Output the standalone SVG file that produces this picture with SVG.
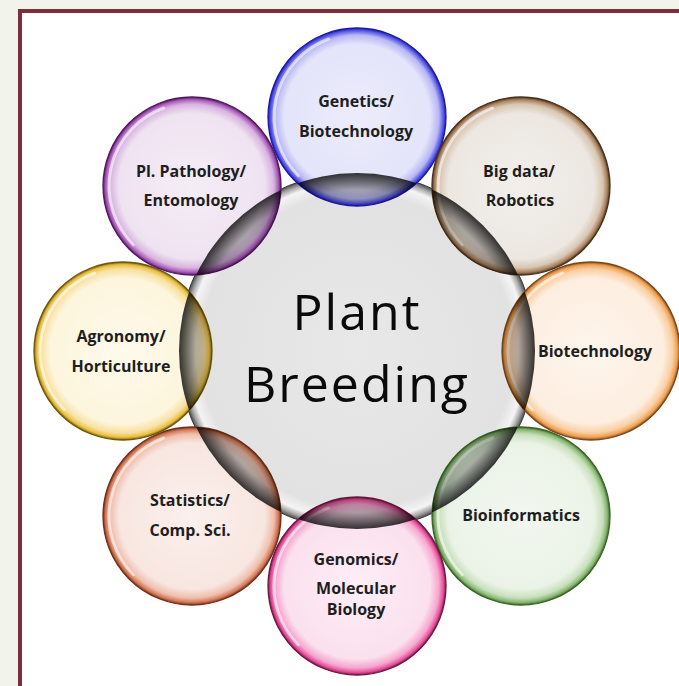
<svg xmlns="http://www.w3.org/2000/svg" width="679" height="686" viewBox="0 0 679 686">
  <style>
    .lbl { font-family: "Open Sans", "Liberation Sans", sans-serif; font-weight: 700; font-size: 16px; fill: #1e1e1e; text-anchor: middle; }
    .big { font-family: "Open Sans", "Liberation Sans", sans-serif; font-weight: 400; font-size: 50px; fill: #0a0a0a; text-anchor: middle; letter-spacing: 2px; }
    .hl { fill: none; stroke: #ffffff; stroke-width: 3; stroke-opacity: 0.6; stroke-linecap: round; }
    .rim { stroke-width: 1.3; }
  </style>
  <defs>
    <radialGradient id="gMain" cx="0.5" cy="0.5" r="0.5">
      <stop offset="0" stop-color="#e8e8e8"/>
      <stop offset="0.88" stop-color="#e2e2e2"/>
      <stop offset="0.945" stop-color="#f4f4f4"/>
      <stop offset="0.975" stop-color="#a8a8a8"/>
      <stop offset="1" stop-color="#4a4a4a"/>
    </radialGradient>
    <radialGradient id="gLens" gradientUnits="userSpaceOnUse" cx="357" cy="351" r="179">
      <stop offset="0" stop-color="#000" stop-opacity="0.12"/>
      <stop offset="0.8" stop-color="#000" stop-opacity="0.14"/>
      <stop offset="0.9" stop-color="#000" stop-opacity="0.3"/>
      <stop offset="1" stop-color="#000" stop-opacity="0.82"/>
    </radialGradient>
    <clipPath id="mainClip">
      <circle cx="357" cy="351" r="178"/>
    </clipPath>
    <radialGradient id="gBlue" cx="0.5" cy="0.5" r="0.5">
      <stop offset="0" stop-color="#ececfb"/>
      <stop offset="0.82" stop-color="#e4e4fa"/>
      <stop offset="0.92" stop-color="#b8b8f4"/>
      <stop offset="0.97" stop-color="#5a5ae6"/>
      <stop offset="1" stop-color="#1c1cb8"/>
    </radialGradient>
    <radialGradient id="gBrown" cx="0.5" cy="0.5" r="0.5">
      <stop offset="0" stop-color="#f2efeb"/>
      <stop offset="0.82" stop-color="#ece7e1"/>
      <stop offset="0.92" stop-color="#d8c6b2"/>
      <stop offset="0.97" stop-color="#a8825e"/>
      <stop offset="1" stop-color="#4e3420"/>
    </radialGradient>
    <radialGradient id="gOrange" cx="0.5" cy="0.5" r="0.5">
      <stop offset="0" stop-color="#fef5ec"/>
      <stop offset="0.82" stop-color="#fdeee0"/>
      <stop offset="0.92" stop-color="#f9cfa4"/>
      <stop offset="0.97" stop-color="#f0a050"/>
      <stop offset="1" stop-color="#8a5220"/>
    </radialGradient>
    <radialGradient id="gGreen" cx="0.5" cy="0.5" r="0.5">
      <stop offset="0" stop-color="#f2f7ef"/>
      <stop offset="0.82" stop-color="#ebf3e7"/>
      <stop offset="0.92" stop-color="#c8e0bc"/>
      <stop offset="0.97" stop-color="#88b872"/>
      <stop offset="1" stop-color="#3e6a2c"/>
    </radialGradient>
    <radialGradient id="gPink" cx="0.5" cy="0.5" r="0.5">
      <stop offset="0" stop-color="#fdeef6"/>
      <stop offset="0.82" stop-color="#fbe0ee"/>
      <stop offset="0.92" stop-color="#f6a6cf"/>
      <stop offset="0.97" stop-color="#e8509c"/>
      <stop offset="1" stop-color="#7a1c4c"/>
    </radialGradient>
    <radialGradient id="gRed" cx="0.5" cy="0.5" r="0.5">
      <stop offset="0" stop-color="#fbf0ec"/>
      <stop offset="0.82" stop-color="#f8e6e0"/>
      <stop offset="0.92" stop-color="#efbfae"/>
      <stop offset="0.97" stop-color="#d67a58"/>
      <stop offset="1" stop-color="#7a3420"/>
    </radialGradient>
    <radialGradient id="gYellow" cx="0.5" cy="0.5" r="0.5">
      <stop offset="0" stop-color="#fefaec"/>
      <stop offset="0.82" stop-color="#fdf5dc"/>
      <stop offset="0.92" stop-color="#f8e0a0"/>
      <stop offset="0.97" stop-color="#e8c040"/>
      <stop offset="1" stop-color="#7a6010"/>
    </radialGradient>
    <radialGradient id="gPurple" cx="0.5" cy="0.5" r="0.5">
      <stop offset="0" stop-color="#f4edf5"/>
      <stop offset="0.82" stop-color="#efe3f1"/>
      <stop offset="0.92" stop-color="#d8b4e0"/>
      <stop offset="0.97" stop-color="#aa5cbc"/>
      <stop offset="1" stop-color="#5a1a66"/>
    </radialGradient>
  </defs>

  <rect x="0" y="0" width="679" height="686" fill="#f2f4ec"/>
  <rect x="20" y="11" width="700" height="700" fill="#ffffff" stroke="#7b2f3d" stroke-width="4"/>

  <g id="node-main">
    <circle cx="357" cy="351" r="179" fill="url(#gMain)" stroke="#3c3c3c" stroke-width="1"/>
  </g>

  <g id="node-genetics" transform="translate(357,117)">
    <circle r="89" fill="url(#gBlue)" class="rim" stroke="#1a1aa8"/>
    <path class="hl" d="M -58.7 58.7 A 83 83 0 0 1 -28.4 -78"/>
    <text class="lbl" x="-1" y="-10">Genetics/</text>
    <text class="lbl" x="-1" y="20">Biotechnology</text>
  </g>

  <g id="node-bigdata" transform="translate(521,186)">
    <circle r="89" fill="url(#gBrown)" class="rim" stroke="#4a301c"/>
    <path class="hl" d="M -58.7 58.7 A 83 83 0 0 1 -28.4 -78"/>
    <text class="lbl" x="-2" y="-9">Big data/</text>
    <text class="lbl" x="-1" y="20">Robotics</text>
  </g>

  <g id="node-biotech" transform="translate(591,351)">
    <circle r="89" fill="url(#gOrange)" class="rim" stroke="#7a4818"/>
    <path class="hl" d="M -58.7 58.7 A 83 83 0 0 1 -28.4 -78"/>
    <text class="lbl" x="4" y="6">Biotechnology</text>
  </g>

  <g id="node-bioinformatics" transform="translate(521,516)">
    <circle r="89" fill="url(#gGreen)" class="rim" stroke="#3a6428"/>
    <path class="hl" d="M -58.7 58.7 A 83 83 0 0 1 -28.4 -78"/>
    <text class="lbl" x="0" y="5">Bioinformatics</text>
  </g>

  <g id="node-genomics" transform="translate(357,586)">
    <circle r="89" fill="url(#gPink)" class="rim" stroke="#701840"/>
    <path class="hl" d="M -58.7 58.7 A 83 83 0 0 1 -28.4 -78"/>
    <text class="lbl" x="-1" y="-21">Genomics/</text>
    <text class="lbl" x="-1" y="8">Molecular</text>
    <text class="lbl" x="-1" y="29">Biology</text>
  </g>

  <g id="node-statistics" transform="translate(192,516)">
    <circle r="89" fill="url(#gRed)" class="rim" stroke="#70301c"/>
    <path class="hl" d="M -58.7 58.7 A 83 83 0 0 1 -28.4 -78"/>
    <text class="lbl" x="-2" y="-10">Statistics/</text>
    <text class="lbl" x="-2" y="20">Comp. Sci.</text>
  </g>

  <g id="node-agronomy" transform="translate(123,351)">
    <circle r="89" fill="url(#gYellow)" class="rim" stroke="#6e560c"/>
    <path class="hl" d="M -58.7 58.7 A 83 83 0 0 1 -28.4 -78"/>
    <text class="lbl" x="-2" y="-9">Agronomy/</text>
    <text class="lbl" x="-2" y="21">Horticulture</text>
  </g>

  <g id="node-pathology" transform="translate(192,186)">
    <circle r="89" fill="url(#gPurple)" class="rim" stroke="#52185e"/>
    <path class="hl" d="M -58.7 58.7 A 83 83 0 0 1 -28.4 -78"/>
    <text class="lbl" x="-1" y="-9">Pl. Pathology/</text>
    <text class="lbl" x="-1" y="20">Entomology</text>
  </g>

  <g id="overlaps" clip-path="url(#mainClip)" fill="url(#gLens)">
    <circle cx="357" cy="117" r="89"/>
    <circle cx="521" cy="186" r="89"/>
    <circle cx="591" cy="351" r="89"/>
    <circle cx="521" cy="516" r="89"/>
    <circle cx="357" cy="586" r="89"/>
    <circle cx="192" cy="516" r="89"/>
    <circle cx="123" cy="351" r="89"/>
    <circle cx="192" cy="186" r="89"/>
  </g>

  <g id="title">
    <text class="big" x="357" y="330">Plant</text>
    <text class="big" x="357" y="402">Breeding</text>
  </g>
</svg>
